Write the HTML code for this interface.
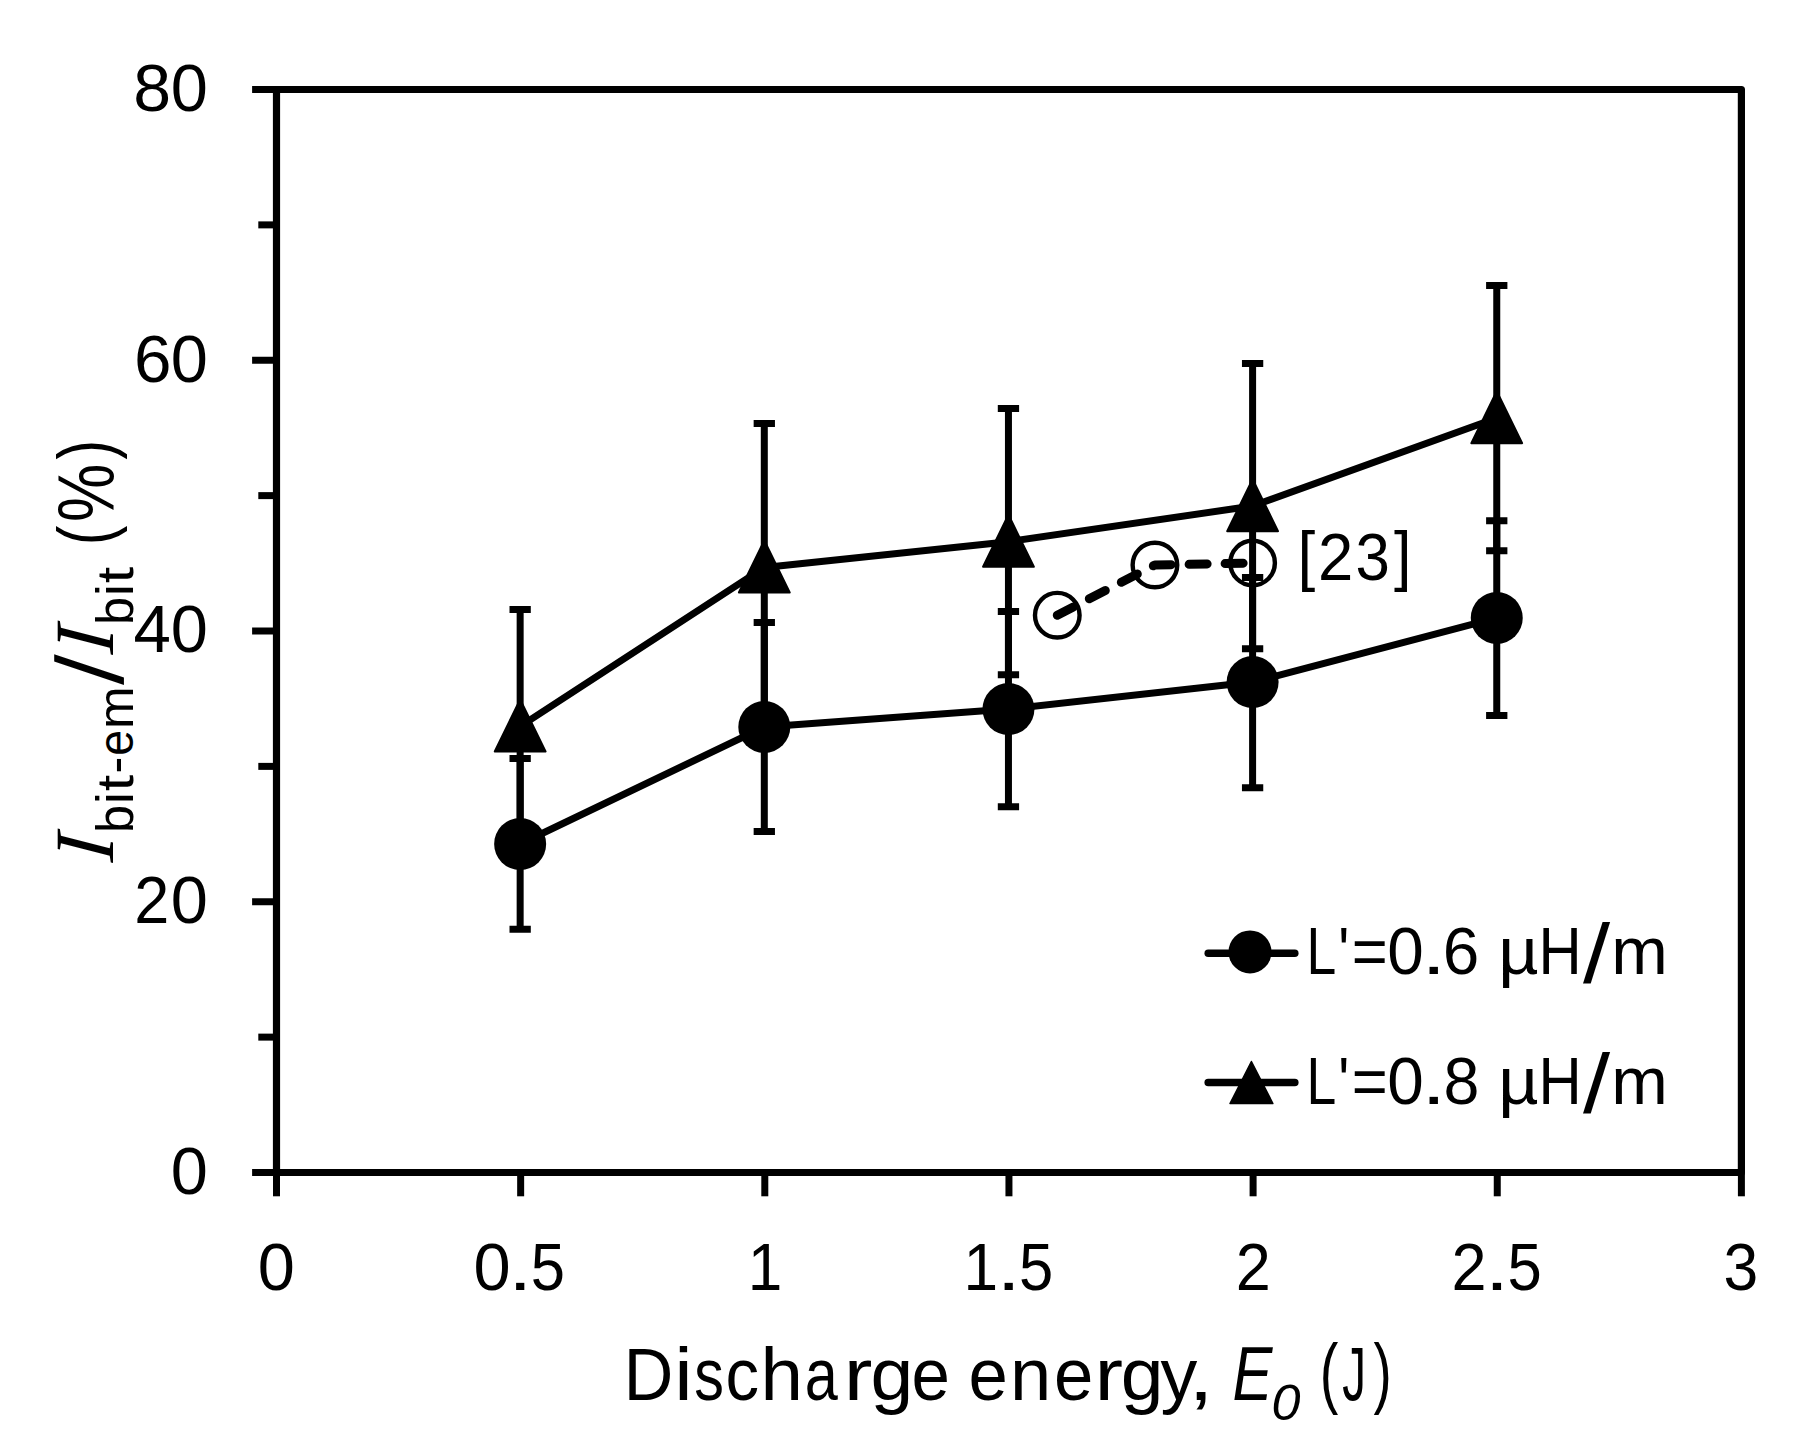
<!DOCTYPE html>
<html lang="en"><head><meta charset="utf-8"><title>Chart</title>
<style>html,body{margin:0;padding:0;background:#fff}svg{display:block}text{font-family:"Liberation Sans",sans-serif;fill:#000}.ser{font-family:"Liberation Serif",serif;font-style:italic}.it{font-style:italic}</style></head><body>
<svg width="1819" height="1429" viewBox="0 0 1819 1429">
<rect x="0" y="0" width="1819" height="1429" fill="#fff"/>
<g fill="none" stroke="#000" stroke-width="7.0">
<rect x="276.5" y="89.5" width="1464.9" height="1083.0" stroke-width="7.2" stroke-linejoin="round"/>
<line x1="252.1" y1="1172.50" x2="276.5" y2="1172.50"/>
<line x1="258.3" y1="1037.12" x2="276.5" y2="1037.12"/>
<line x1="252.1" y1="901.75" x2="276.5" y2="901.75"/>
<line x1="258.3" y1="766.38" x2="276.5" y2="766.38"/>
<line x1="252.1" y1="631.00" x2="276.5" y2="631.00"/>
<line x1="258.3" y1="495.62" x2="276.5" y2="495.62"/>
<line x1="252.1" y1="360.25" x2="276.5" y2="360.25"/>
<line x1="258.3" y1="224.88" x2="276.5" y2="224.88"/>
<line x1="252.1" y1="89.50" x2="276.5" y2="89.50"/>
<line x1="276.50" y1="1172.5" x2="276.50" y2="1196.3"/>
<line x1="520.65" y1="1172.5" x2="520.65" y2="1196.3"/>
<line x1="764.80" y1="1172.5" x2="764.80" y2="1196.3"/>
<line x1="1008.95" y1="1172.5" x2="1008.95" y2="1196.3"/>
<line x1="1253.10" y1="1172.5" x2="1253.10" y2="1196.3"/>
<line x1="1497.25" y1="1172.5" x2="1497.25" y2="1196.3"/>
<line x1="1741.40" y1="1172.5" x2="1741.40" y2="1196.3"/>
</g>
<g fill="none" stroke="#000" stroke-width="7.0">
<path d="M520.15 758.5 V929.3 M509.50 758.5 H530.80 M509.50 929.3 H530.80"/>
<path d="M764.30 622.4 V831.5 M753.65 622.4 H774.95 M753.65 831.5 H774.95"/>
<path d="M1008.45 611.5 V806.7 M997.80 611.5 H1019.10 M997.80 806.7 H1019.10"/>
<path d="M1252.60 577.6 V787.7 M1241.95 577.6 H1263.25 M1241.95 787.7 H1263.25"/>
<path d="M1496.75 520.7 V715.6 M1486.10 520.7 H1507.40 M1486.10 715.6 H1507.40"/>
</g>
<polyline points="520.15,844.0 764.30,726.9 1008.45,709.1 1252.60,682.1 1496.75,617.9" fill="none" stroke="#000" stroke-width="7.0" stroke-linejoin="round"/>
<circle cx="520.15" cy="844.0" r="26" fill="#000"/>
<circle cx="764.30" cy="726.9" r="26" fill="#000"/>
<circle cx="1008.45" cy="709.1" r="26" fill="#000"/>
<circle cx="1252.60" cy="682.1" r="26" fill="#000"/>
<circle cx="1496.75" cy="617.9" r="26" fill="#000"/>
<g fill="none" stroke="#000" stroke-width="7.0">
<path d="M520.15 609.4 V843.6 M509.50 609.4 H530.80 M509.50 843.6 H530.80"/>
<path d="M764.30 423.5 V711.4 M753.65 423.5 H774.95 M753.65 711.4 H774.95"/>
<path d="M1008.45 408.6 V674.7 M997.80 408.6 H1019.10 M997.80 674.7 H1019.10"/>
<path d="M1252.60 363.4 V648.7 M1241.95 363.4 H1263.25 M1241.95 648.7 H1263.25"/>
<path d="M1496.75 285.4 V550.7 M1486.10 285.4 H1507.40 M1486.10 550.7 H1507.40"/>
</g>
<polyline points="520.15,726.4 764.30,567.4 1008.45,541.65 1252.60,506.05 1496.75,418.05" fill="none" stroke="#000" stroke-width="7.0" stroke-linejoin="round"/>
<polygon points="520.15,699.50 545.55,751.50 494.75,751.50" fill="#000" stroke="#000" stroke-width="2" stroke-linejoin="round"/>
<polygon points="764.30,540.50 789.70,592.50 738.90,592.50" fill="#000" stroke="#000" stroke-width="2" stroke-linejoin="round"/>
<polygon points="1008.45,514.75 1033.85,566.75 983.05,566.75" fill="#000" stroke="#000" stroke-width="2" stroke-linejoin="round"/>
<polygon points="1252.60,479.15 1278.00,531.15 1227.20,531.15" fill="#000" stroke="#000" stroke-width="2" stroke-linejoin="round"/>
<polygon points="1496.75,391.15 1522.15,443.15 1471.35,443.15" fill="#000" stroke="#000" stroke-width="2" stroke-linejoin="round"/>
<polyline points="1057.28,615.2 1154.94,565.0 1252.60,563.0" fill="none" stroke="#000" stroke-width="9" stroke-linecap="round" stroke-linejoin="round" stroke-dasharray="18 18"/>
<circle cx="1057.28" cy="615.2" r="22.3" fill="none" stroke="#000" stroke-width="4.4"/>
<circle cx="1154.94" cy="565.0" r="22.3" fill="none" stroke="#000" stroke-width="4.4"/>
<circle cx="1252.60" cy="563.0" r="22.3" fill="none" stroke="#000" stroke-width="4.4"/>
<g stroke="#000" stroke-width="7.5" stroke-linecap="round"><line x1="1208.2" y1="953.2" x2="1294.8" y2="953.2"/><line x1="1208.2" y1="1082.4" x2="1294.8" y2="1082.4"/></g>
<circle cx="1250" cy="951.9" r="21.5" fill="#000"/>
<polygon points="1251.4,1061.5 1272.9,1103.5 1230,1103.5" fill="#000" stroke="#000" stroke-width="1.5" stroke-linejoin="round"/>
<g font-size="67.5">
<text font-size="67.5"><tspan x="170.84" y="1193.90" textLength="37.11" lengthAdjust="spacingAndGlyphs">0</tspan></text>
<text font-size="67.5"><tspan x="134.23" y="923.15" textLength="35.04" lengthAdjust="spacingAndGlyphs">2</tspan><tspan x="170.84" y="923.15" textLength="37.11" lengthAdjust="spacingAndGlyphs">0</tspan></text>
<text font-size="67.5"><tspan x="133.46" y="652.40" textLength="37.41" lengthAdjust="spacingAndGlyphs">4</tspan><tspan x="170.84" y="652.40" textLength="37.11" lengthAdjust="spacingAndGlyphs">0</tspan></text>
<text font-size="67.5"><tspan x="134.08" y="381.65" textLength="37.48" lengthAdjust="spacingAndGlyphs">6</tspan><tspan x="170.84" y="381.65" textLength="37.11" lengthAdjust="spacingAndGlyphs">0</tspan></text>
<text font-size="67.5"><tspan x="133.25" y="110.90" textLength="37.81" lengthAdjust="spacingAndGlyphs">8</tspan><tspan x="170.84" y="110.90" textLength="37.11" lengthAdjust="spacingAndGlyphs">0</tspan></text>
<text font-size="67.5"><tspan x="257.74" y="1290.20" textLength="37.11" lengthAdjust="spacingAndGlyphs">0</tspan></text>
<text font-size="67.5"><tspan x="473.44" y="1290.20" textLength="37.11" lengthAdjust="spacingAndGlyphs">0</tspan><tspan x="508.39" y="1290.20" textLength="23.93" lengthAdjust="spacingAndGlyphs">.</tspan><tspan x="530.78" y="1290.20" textLength="34.25" lengthAdjust="spacingAndGlyphs">5</tspan></text>
<text font-size="67.5"><tspan x="747.77" y="1290.20" textLength="34.57" lengthAdjust="spacingAndGlyphs">1</tspan></text>
<text font-size="67.5"><tspan x="963.47" y="1290.20" textLength="34.57" lengthAdjust="spacingAndGlyphs">1</tspan><tspan x="996.69" y="1290.20" textLength="23.93" lengthAdjust="spacingAndGlyphs">.</tspan><tspan x="1019.08" y="1290.20" textLength="34.25" lengthAdjust="spacingAndGlyphs">5</tspan></text>
<text font-size="67.5"><tspan x="1235.73" y="1290.20" textLength="35.04" lengthAdjust="spacingAndGlyphs">2</tspan></text>
<text font-size="67.5"><tspan x="1451.43" y="1290.20" textLength="35.04" lengthAdjust="spacingAndGlyphs">2</tspan><tspan x="1484.99" y="1290.20" textLength="23.93" lengthAdjust="spacingAndGlyphs">.</tspan><tspan x="1507.38" y="1290.20" textLength="34.25" lengthAdjust="spacingAndGlyphs">5</tspan></text>
<text font-size="67.5"><tspan x="1723.42" y="1290.20" textLength="34.72" lengthAdjust="spacingAndGlyphs">3</tspan></text>
<text font-size="67.5"><tspan x="1297.44" y="578.40" font-size="66" textLength="17.76" lengthAdjust="spacingAndGlyphs">[</tspan><tspan x="1317.91" y="580.40" textLength="35.28" lengthAdjust="spacingAndGlyphs">2</tspan><tspan x="1355.55" y="580.40" textLength="34.37" lengthAdjust="spacingAndGlyphs">3</tspan><tspan x="1393.91" y="578.40" font-size="66" textLength="17.48" lengthAdjust="spacingAndGlyphs">]</tspan></text>
<text font-size="67.5"><tspan x="1306.51" y="974.20" textLength="29.77" lengthAdjust="spacingAndGlyphs">L</tspan><tspan x="1338.26" y="974.20" textLength="11.05" lengthAdjust="spacingAndGlyphs">'</tspan><tspan x="1351.69" y="974.20" textLength="35.94" lengthAdjust="spacingAndGlyphs">=</tspan><tspan x="1387.23" y="974.20" textLength="36.53" lengthAdjust="spacingAndGlyphs">0</tspan><tspan x="1421.44" y="974.20" textLength="24.51" lengthAdjust="spacingAndGlyphs">.</tspan><tspan x="1442.87" y="974.20" textLength="36.52" lengthAdjust="spacingAndGlyphs">6</tspan> <tspan x="1498.31" y="974.20" textLength="40.40" lengthAdjust="spacingAndGlyphs">µ</tspan><tspan x="1538.50" y="974.20" textLength="43.18" lengthAdjust="spacingAndGlyphs">H</tspan><tspan x="1583.10" y="983.40" font-size="84" textLength="27.10" lengthAdjust="spacingAndGlyphs">/</tspan><tspan x="1611.39" y="974.20" textLength="56.59" lengthAdjust="spacingAndGlyphs">m</tspan></text>
<text font-size="67.5"><tspan x="1306.51" y="1103.50" textLength="29.77" lengthAdjust="spacingAndGlyphs">L</tspan><tspan x="1338.26" y="1103.50" textLength="11.05" lengthAdjust="spacingAndGlyphs">'</tspan><tspan x="1351.69" y="1103.50" textLength="35.94" lengthAdjust="spacingAndGlyphs">=</tspan><tspan x="1387.23" y="1103.50" textLength="36.53" lengthAdjust="spacingAndGlyphs">0</tspan><tspan x="1421.44" y="1103.50" textLength="24.51" lengthAdjust="spacingAndGlyphs">.</tspan><tspan x="1443.39" y="1103.50" textLength="35.91" lengthAdjust="spacingAndGlyphs">8</tspan> <tspan x="1498.31" y="1103.50" textLength="40.40" lengthAdjust="spacingAndGlyphs">µ</tspan><tspan x="1538.50" y="1103.50" textLength="43.18" lengthAdjust="spacingAndGlyphs">H</tspan><tspan x="1583.10" y="1112.70" font-size="84" textLength="27.10" lengthAdjust="spacingAndGlyphs">/</tspan><tspan x="1611.39" y="1103.50" textLength="56.59" lengthAdjust="spacingAndGlyphs">m</tspan></text>
</g>
<text font-size="74.5"><tspan x="623.78" y="1400.40" textLength="49.50" lengthAdjust="spacingAndGlyphs">D</tspan><tspan x="674.34" y="1400.40" textLength="18.45" lengthAdjust="spacingAndGlyphs">i</tspan><tspan x="694.35" y="1400.40" textLength="29.70" lengthAdjust="spacingAndGlyphs">s</tspan><tspan x="725.55" y="1400.40" textLength="33.51" lengthAdjust="spacingAndGlyphs">c</tspan><tspan x="760.41" y="1400.40" textLength="42.45" lengthAdjust="spacingAndGlyphs">h</tspan><tspan x="804.78" y="1400.40" textLength="33.02" lengthAdjust="spacingAndGlyphs">a</tspan><tspan x="843.89" y="1400.40" textLength="28.64" lengthAdjust="spacingAndGlyphs">r</tspan><tspan x="870.57" y="1400.40" textLength="42.79" lengthAdjust="spacingAndGlyphs">g</tspan><tspan x="911.57" y="1400.40" textLength="38.40" lengthAdjust="spacingAndGlyphs">e</tspan> <tspan x="968.39" y="1400.40" textLength="39.35" lengthAdjust="spacingAndGlyphs">e</tspan><tspan x="1010.08" y="1400.40" textLength="41.24" lengthAdjust="spacingAndGlyphs">n</tspan><tspan x="1053.89" y="1400.40" textLength="39.35" lengthAdjust="spacingAndGlyphs">e</tspan><tspan x="1094.42" y="1400.40" textLength="28.51" lengthAdjust="spacingAndGlyphs">r</tspan><tspan x="1120.87" y="1400.40" textLength="42.79" lengthAdjust="spacingAndGlyphs">g</tspan><tspan x="1160.62" y="1400.40" textLength="36.82" lengthAdjust="spacingAndGlyphs">y</tspan><tspan x="1188.26" y="1400.40" textLength="25.48" lengthAdjust="spacingAndGlyphs">,</tspan> </text>
<text font-size="75.5" class="it"><tspan x="1232.46" y="1400.40" textLength="39.88" lengthAdjust="spacingAndGlyphs">E</tspan></text>
<text font-size="50.5" class="it"><tspan x="1271.63" y="1420.40" textLength="29.00" lengthAdjust="spacingAndGlyphs">0</tspan></text>
<text font-size="75.5"><tspan x="1319.64" y="1398.90" font-size="77.3" textLength="18.59" lengthAdjust="spacingAndGlyphs">(</tspan><tspan x="1342.26" y="1400.40" textLength="23.77" lengthAdjust="spacingAndGlyphs">J</tspan><tspan x="1373.38" y="1398.90" font-size="77.3" textLength="18.21" lengthAdjust="spacingAndGlyphs">)</tspan></text>
<g transform="translate(112.8 0) rotate(-90)">
<text class="ser" font-size="84.5" transform="matrix(0.93 0 -0.092 1 -862.8 0)" x="0" y="0">I</text>
<text font-size="51.5"><tspan x="-833.05" y="20.10" textLength="28.07" lengthAdjust="spacingAndGlyphs">b</tspan><tspan x="-804.35" y="20.10" textLength="12.13" lengthAdjust="spacingAndGlyphs">i</tspan><tspan x="-791.20" y="20.10" textLength="16.43" lengthAdjust="spacingAndGlyphs">t</tspan><tspan x="-773.44" y="20.10" textLength="16.78" lengthAdjust="spacingAndGlyphs">-</tspan><tspan x="-755.87" y="20.10" font-size="49.5" textLength="25.84" lengthAdjust="spacingAndGlyphs">e</tspan><tspan x="-729.09" y="20.10" font-size="49.5" textLength="42.56" lengthAdjust="spacingAndGlyphs">m</tspan></text>
<text font-size="95" transform="matrix(1 0 -0.0636 1 -685.1 10)" x="0" y="0">/</text>
<text class="ser" font-size="84.5" transform="matrix(0.93 0 -0.092 1 -654.8 0)" x="0" y="0">I</text>
<text font-size="51.5"><tspan x="-625.05" y="20.10" textLength="28.07" lengthAdjust="spacingAndGlyphs">b</tspan><tspan x="-596.35" y="20.10" textLength="12.13" lengthAdjust="spacingAndGlyphs">i</tspan><tspan x="-583.20" y="20.10" textLength="16.43" lengthAdjust="spacingAndGlyphs">t</tspan></text>
<text font-size="76.4" transform="matrix(0.77 0 0 1 -545.2 -2.0)" x="0" y="0">(</text>
<text font-size="79.7" transform="matrix(0.822 0 0 1 -521.9 0.9)" x="0" y="0">%</text>
<text font-size="76.4" transform="matrix(0.77 0 0 1 -459.4 -2.0)" x="0" y="0">)</text>
</g>
</svg></body></html>
